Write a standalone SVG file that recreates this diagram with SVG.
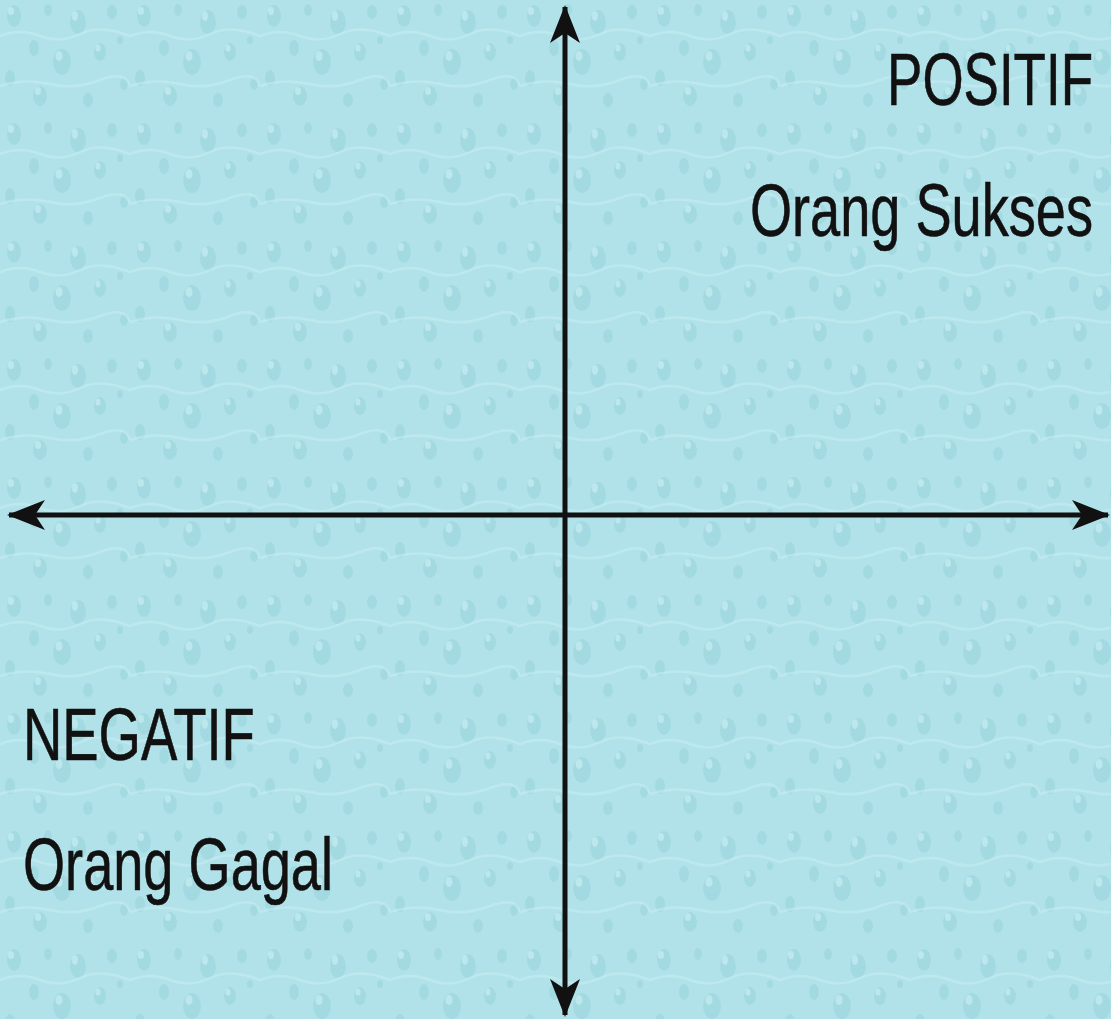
<svg xmlns="http://www.w3.org/2000/svg" width="1111" height="1019" viewBox="0 0 1111 1019">
  <style>
    .lbl { font-family: "Liberation Sans", Arial, sans-serif; font-size: 75px; fill: #111; stroke: #111; stroke-width: 0.6; }
    .r { text-anchor: end; }
    .axis { stroke: #111; stroke-width: 5; fill: none; }
    .d { fill: #96d2dc; opacity: 0.55; }
    .h { fill: #cdf0f4; opacity: 0.6; }
  </style>
  <defs>
    <pattern id="drops" width="130" height="118" patternUnits="userSpaceOnUse">
      <rect width="130" height="118" fill="#b2e2e9"/>
      <ellipse class="d" cx="14" cy="16" rx="7" ry="11"/>
      <ellipse class="h" cx="11" cy="11" rx="3" ry="4"/>
      <ellipse class="d" cx="48" cy="10" rx="4" ry="6"/>
      <ellipse class="d" cx="78" cy="22" rx="8" ry="12"/>
      <ellipse class="h" cx="75" cy="16" rx="3" ry="5"/>
      <ellipse class="d" cx="112" cy="12" rx="5" ry="7"/>
      <ellipse class="d" cx="34" cy="48" rx="5" ry="8"/>
      <ellipse class="d" cx="100" cy="52" rx="6" ry="9"/>
      <ellipse class="h" cx="98" cy="48" rx="2.5" ry="3.5"/>
      <ellipse class="d" cx="62" cy="62" rx="9" ry="13"/>
      <ellipse class="h" cx="59" cy="56" rx="3.5" ry="5"/>
      <ellipse class="d" cx="10" cy="78" rx="5" ry="8"/>
      <ellipse class="d" cx="124" cy="84" rx="4" ry="6"/>
      <ellipse class="d" cx="40" cy="96" rx="7" ry="10"/>
      <ellipse class="h" cx="38" cy="91" rx="3" ry="4"/>
      <ellipse class="d" cx="88" cy="100" rx="5" ry="7"/>
      <ellipse class="d" cx="120" cy="40" rx="3" ry="4"/>
      <path d="M0,36 Q20,28 40,36 T80,34 T130,36" stroke="#c8eef3" stroke-width="2.5" fill="none" opacity="0.5"/>
      <path d="M0,86 Q25,78 50,84 T100,80 T130,86" stroke="#c8eef3" stroke-width="2.5" fill="none" opacity="0.5"/>
    </pattern>
    <marker id="head" viewBox="0 0 38 32" refX="36" refY="16" markerWidth="38" markerHeight="32" markerUnits="userSpaceOnUse" orient="auto-start-reverse">
      <path d="M0,1 L38,16 L0,31 L10,16 Z" fill="#111"/>
    </marker>
  </defs>
  <rect width="1111" height="1019" fill="url(#drops)"/>
  <g id="connectors">
    <line class="axis" x1="565" y1="1015" x2="565" y2="7" marker-start="url(#head)" marker-end="url(#head)"/>
    <line class="axis" x1="9" y1="515" x2="1108" y2="515" marker-start="url(#head)" marker-end="url(#head)"/>
  </g>
  <g id="positif">
    <text class="lbl r" transform="translate(1093,105) scale(0.706,1)">POSITIF</text>
    <text class="lbl r" transform="translate(1093,236) scale(0.722,1)">Orang Sukses</text>
  </g>
  <g id="negatif">
    <text class="lbl" transform="translate(23,760) scale(0.726,1)">NEGATIF</text>
    <text class="lbl" transform="translate(23,890) scale(0.722,1)">Orang Gagal</text>
  </g>
</svg>
